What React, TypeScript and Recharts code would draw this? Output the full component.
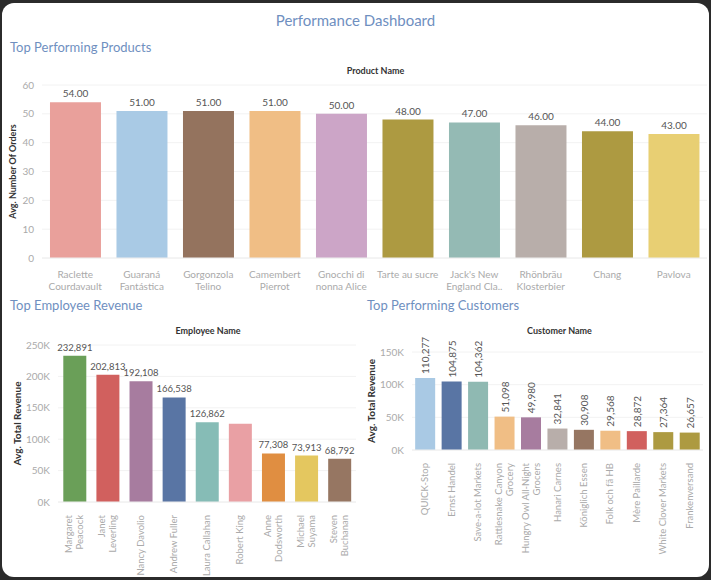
import { BarChart, Bar, XAxis, YAxis, CartesianGrid, Cell, LabelList } from 'recharts';

const products = ['Raclette|Courdavault', 'Guaraná|Fantástica', 'Gorgonzola|Telino', 'Camembert|Pierrot', 'Gnocchi di|nonna Alice', 'Tarte au sucre', "Jack's New|England Cla..", 'Rhönbräu|Klosterbier', 'Chang', 'Pavlova'];
const productOrders = [54, 51, 51, 51, 50, 48, 47, 46, 44, 43];
const productColors = ['#E9A09B', '#A9CAE5', '#94735E', '#F0BE85', '#CCA5C7', '#AD9A41', '#94BAB4', '#B8AEAA', '#AD9A41', '#E8CF73'];
const productTicks = [0, 10, 20, 30, 40, 50, 60];

const employees = ['Margaret|Peacock', 'Janet|Leverling', 'Nancy Davolio', 'Andrew Fuller', 'Laura Callahan', 'Robert King', 'Anne|Dodsworth', 'Michael|Suyama', 'Steven|Buchanan'];
const employeeRevenue = [232891, 202813, 192108, 166538, 126862, 124500, 77308, 73913, 68792];
const employeeShowLabel = [true, true, true, true, true, false, true, true, true];
const employeeColors = ['#6A9F58', '#D1605E', '#A77C9F', '#5975A4', '#86BCB6', '#E9A0A4', '#E08E41', '#E4C75F', '#967662'];
const employeeTicks = [0, 50000, 100000, 150000, 200000, 250000];

const customers = ['QUICK-Stop', 'Ernst Handel', 'Save-a-lot Markets', 'Rattlesnake Canyon|Grocery', 'Hungry Owl All-Night|Grocers', 'Hanari Carnes', 'Königlich Essen', 'Folk och fä HB', 'Mère Paillarde', 'White Clover Markets', 'Frankenversand'];
const customerRevenue = [110277, 104875, 104362, 51098, 49980, 32841, 30908, 29568, 28872, 27364, 26657];
const customerColors = ['#A9C9E4', '#5975A4', '#8FB9B2', '#F0BE85', '#A77C9F', '#B8AEAA', '#967662', '#F0BE85', '#D1605E', '#AD9A41', '#AD9A41'];
const customerTicks = [0, 50000, 100000, 150000];

const FONT = 'Lato, "Open Sans", sans-serif';
const tickStyle = { fill: '#aaa', fontSize: 10, fontFamily: FONT };
const kFmt = (v: number) => `${v / 1000}K`;
const num = (v: number) => v.toLocaleString('en-US');

const WrapTick = (props: any) => {
  const { x, y, payload } = props;
  const lines = String(payload.value).split('|');
  return (
    <text x={x} y={y + 8} textAnchor="middle" fill="#aaa" fontSize={10} fontFamily={FONT}>
      {lines.map((l, i) => (
        <tspan key={i} x={x} dy={i === 0 ? 4 : 12}>{l}</tspan>
      ))}
    </text>
  );
};

const RotTick = (props: any) => {
  const { x, y, payload } = props;
  const lines = String(payload.value).split('|');
  const off = (lines.length - 1) * 5.5;
  return (
    <g transform={`translate(${x},${y + 5}) rotate(-90)`}>
      <text textAnchor="end" fill="#aaa" fontSize={9.5} fontFamily={FONT}>
        {lines.map((l, i) => (
          <tspan key={i} x={0} y={i * 11 - off + 3}>{l}</tspan>
        ))}
      </text>
    </g>
  );
};

const RotLabel = (props: any) => {
  const { x, y, width, value } = props;
  const cx = x + width / 2;
  return (
    <text transform={`translate(${cx + 4},${y - 4}) rotate(-90)`} textAnchor="start" fill="#555" fontSize={10} fontFamily={FONT}>
      {num(value)}
    </text>
  );
};

const titleStyle: React.CSSProperties = { position: 'absolute', color: '#6F8FBF', fontFamily: FONT, fontSize: 13 };
const subStyle: React.CSSProperties = { position: 'absolute', color: '#333', fontFamily: FONT, fontSize: 9, fontWeight: 700, textAlign: 'center' };

export default function App() {
  const productData = products.map((name, i) => ({ name, value: productOrders[i] }));
  const employeeData = employees.map((name, i) => ({ name, value: employeeRevenue[i], label: employeeShowLabel[i] ? num(employeeRevenue[i]) : '' }));
  const customerData = customers.map((name, i) => ({ name, value: customerRevenue[i] }));

  return (
    <div style={{ position: 'fixed', left: 0, top: 0, width: 711, height: 580, background: '#2b2b2b', overflow: 'hidden' }}>
      <div style={{ position: 'absolute', left: 2, top: 3, width: 707, height: 574, background: '#fff', borderRadius: 12 }} />
      <div style={{ ...titleStyle, left: 0, width: 711, top: 11, textAlign: 'center', fontSize: 15 }}>Performance Dashboard</div>
      <div style={{ ...titleStyle, left: 10, top: 39 }}>Top Performing Products</div>
      <div style={{ ...subStyle, left: 40, width: 671, top: 65 }}>Product Name</div>
      <div style={{ position: 'absolute', left: 0, top: 78 }}>
        <BarChart width={711} height={215} data={productData} margin={{ top: 7, right: 4, bottom: 0, left: 0 }} barCategoryGap="12%">
          <CartesianGrid vertical={false} stroke="#f2f2f2" />
          <XAxis dataKey="name" interval={0} tick={<WrapTick />} height={35} axisLine={{ stroke: '#eee' }} tickLine={false} />
          <YAxis domain={[0, 60]} ticks={productTicks} tick={tickStyle} width={42} axisLine={false} tickLine={false}
            label={{ value: 'Avg. Number Of Orders', angle: -90, position: 'insideLeft', dx: 8, style: { fill: '#333', fontSize: 9, fontWeight: 700, fontFamily: FONT, textAnchor: 'middle' } }} />
          <Bar dataKey="value" isAnimationActive={false}>
            {productData.map((d, i) => <Cell key={i} fill={productColors[i]} />)}
            <LabelList dataKey="value" position="top" formatter={(v: any) => Number(v).toFixed(2)} style={{ fill: '#555', fontSize: 10, fontFamily: FONT }} />
          </Bar>
        </BarChart>
      </div>

      <div style={{ ...titleStyle, left: 10, top: 297 }}>Top Employee Revenue</div>
      <div style={{ ...subStyle, left: 58, width: 300, top: 325 }}>Employee Name</div>
      <div style={{ position: 'absolute', left: 0, top: 320 }}>
        <BarChart width={360} height={258} data={employeeData} margin={{ top: 25, right: 4, bottom: 0, left: 0 }} barCategoryGap="16%">
          <CartesianGrid vertical={false} stroke="#f2f2f2" />
          <XAxis dataKey="name" interval={0} tick={<RotTick />} height={76} axisLine={{ stroke: '#eee' }} tickLine={false} />
          <YAxis domain={[0, 250000]} ticks={employeeTicks} tickFormatter={kFmt} tick={tickStyle} width={58} axisLine={false} tickLine={false}
            label={{ value: 'Avg. Total Revenue', angle: -90, position: 'insideLeft', dx: 12, style: { fill: '#333', fontSize: 10, fontWeight: 700, fontFamily: FONT, textAnchor: 'middle' } }} />
          <Bar dataKey="value" isAnimationActive={false}>
            {employeeData.map((d, i) => <Cell key={i} fill={employeeColors[i]} />)}
            <LabelList dataKey="label" position="top" style={{ fill: '#555', fontSize: 9.5, fontFamily: FONT }} />
          </Bar>
        </BarChart>
      </div>

      <div style={{ ...titleStyle, left: 367, top: 297 }}>Top Performing Customers</div>
      <div style={{ ...subStyle, left: 412, width: 295, top: 325 }}>Customer Name</div>
      <div style={{ position: 'absolute', left: 362, top: 325 }}>
        <BarChart width={345} height={255} data={customerData} margin={{ top: 27, right: 4, bottom: 0, left: 0 }} barCategoryGap="12%">
          <CartesianGrid vertical={false} stroke="#f2f2f2" />
          <XAxis dataKey="name" interval={0} tick={<RotTick />} height={130} axisLine={{ stroke: '#eee' }} tickLine={false} />
          <YAxis domain={[0, 150000]} ticks={customerTicks} tickFormatter={kFmt} tick={tickStyle} width={50} axisLine={false} tickLine={false}
            label={{ value: 'Avg. Total Revenue', angle: -90, position: 'insideLeft', dx: 4, style: { fill: '#333', fontSize: 10, fontWeight: 700, fontFamily: FONT, textAnchor: 'middle' } }} />
          <Bar dataKey="value" isAnimationActive={false}>
            {customerData.map((d, i) => <Cell key={i} fill={customerColors[i]} />)}
            <LabelList dataKey="value" content={<RotLabel />} />
          </Bar>
        </BarChart>
      </div>
    </div>
  );
}
